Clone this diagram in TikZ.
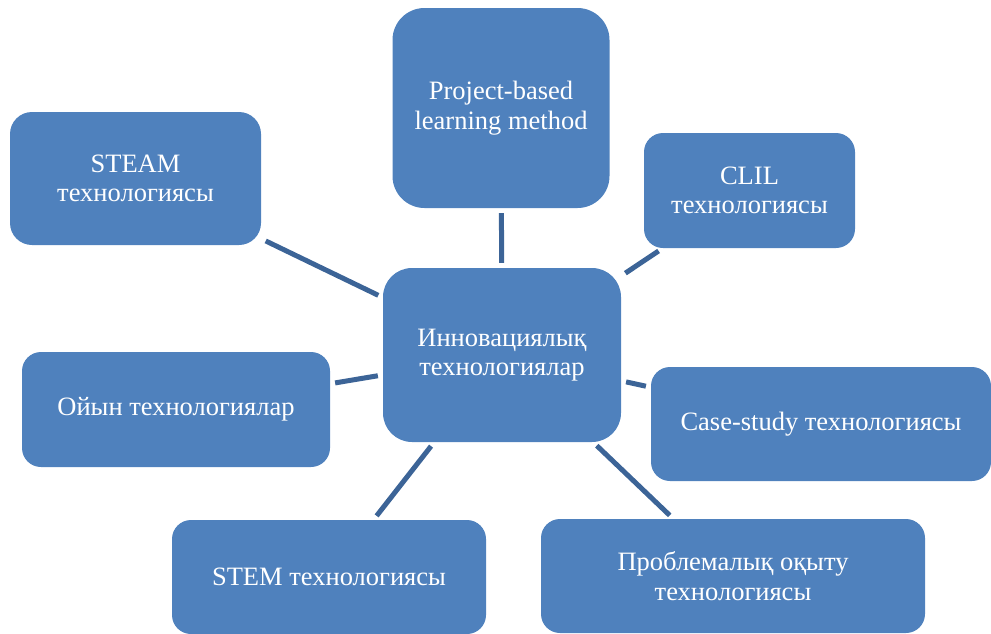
\documentclass[tikz,border=0pt]{standalone}
\usepackage{fontspec}
\setmainfont{Liberation Serif}
\usepackage{tikz}
\usetikzlibrary{positioning}
\definecolor{boxblue}{HTML}{4F81BD}
\definecolor{linkblue}{HTML}{3C6497}
\tikzset{
    tech/.style={rectangle,fill=boxblue,text=white,align=center,inner sep=2pt,
        font=\fontsize{26.5}{29.5}\selectfont},
    hub/.style={tech,rounded corners=29pt,minimum width=238pt,minimum height=174pt},
    link/.style={draw=linkblue,line width=5pt,shorten <=5pt,shorten >=5pt},
}

\begin{document}
\begin{tikzpicture}[x=1pt,y=-1pt]
    \useasboundingbox (0,0) rectangle (991,633);
    \node[hub] (inno) at (502,355) {Инновациялық\\технологиялар};
    \node[tech,rounded corners=32pt,minimum width=217pt,minimum height=200pt] (proj) at (501,108) {Project-based\\learning method};
    \node[tech,rounded corners=22pt,minimum width=251pt,minimum height=133pt] (steam) at (135.5,178.5) {STEAM\\технологиясы};
    \node[tech,rounded corners=19pt,minimum width=211pt,minimum height=115pt] (clil) at (749.5,190.5) {CLIL\\технологиясы};
    \node[tech,rounded corners=19pt,minimum width=308pt,minimum height=115pt] (game) at (176,409.5) {Ойын технологиялар};
    \node[tech,rounded corners=19pt,minimum width=340pt,minimum height=114pt] (casestudy) at (821,424) {Case-study технологиясы};
    \node[tech,rounded corners=19pt,minimum width=314pt,minimum height=114pt] (stem) at (329,577) {STEM технологиясы};
    \node[tech,rounded corners=19pt,minimum width=384pt,minimum height=114pt] (problem) at (733,576) {Проблемалық оқыту\\технологиясы};
    % spokes from the hub
    \draw[link] (inno)--(proj);
    \draw[link] (inno)--(steam);
    \draw[link] (inno)--(clil);
    \draw[link] (inno)--(game);
    \draw[link] (inno)--(casestudy);
    \draw[link] (inno)--(stem);
    \draw[link] (inno)--(problem);
\end{tikzpicture}
\end{document}
